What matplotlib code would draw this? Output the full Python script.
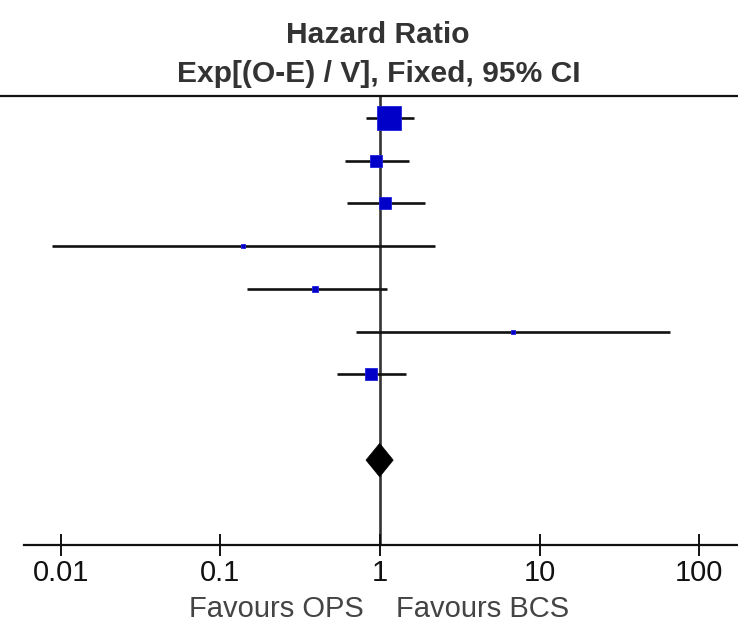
import numpy as np
import matplotlib
matplotlib.use("Agg")
import matplotlib.pyplot as plt
from matplotlib.lines import Line2D
from matplotlib.patches import Polygon

# ---- data ----
hr      = [1.14, 0.94, 1.075, 0.139, 0.393, 6.78, 0.875]
ci_low  = [0.817, 0.60, 0.62, 0.0088, 0.147, 0.707, 0.540]
ci_high = [1.63, 1.52, 1.91, 2.22, 1.10, 65.6, 1.455]
weights = [52.3, 16.0, 11.5, 1.5, 2.4, 1.5, 14.8]
pooled_hr, pooled_low, pooled_high = 0.995, 0.817, 1.21
tick_values = [0.01, 0.1, 1, 10, 100]
tick_labels = ["0.01", "0.1", "1", "10", "100"]
title_lines = ["Hazard Ratio", "Exp[(O-E) / V], Fixed, 95% CI"]
left_label, right_label = "Favours OPS", "Favours BCS"

W, H, DPI = 738, 623, 100
plt.rcParams['font.family'] = ['Liberation Sans', 'DejaVu Sans']

fig = plt.figure(figsize=(W / DPI, H / DPI), dpi=DPI)

# axes: bottom spine at y=545 px, spans x 24..737 px
ax_left, ax_right = 24, 737
ax_bottom, ax_top = 545, 96
ax = fig.add_axes([ax_left / W, (H - ax_bottom) / H,
                   (ax_right - ax_left) / W, (ax_bottom - ax_top) / H])

px_per_decade = 159.6
x_one = 380.0
ax.set_xscale('log')
ax.set_xlim(10 ** ((ax_left - x_one) / px_per_decade),
            10 ** ((ax_right - x_one) / px_per_decade))

row0_px, row_step = 117.7, 42.8
ax.set_ylim((ax_bottom - row0_px) / row_step, (ax_top - row0_px) / row_step)

for s in ['top', 'left', 'right']:
    ax.spines[s].set_visible(False)
ax.spines['bottom'].set_linewidth(1.6)
ax.spines['bottom'].set_color('#111111')
ax.set_yticks([])
ax.set_xticks(tick_values)
ax.set_xticklabels(tick_labels)
ax.xaxis.set_minor_locator(matplotlib.ticker.NullLocator())
ax.tick_params(axis='x', direction='inout', length=16.5, width=1.4,
               colors='#111111', labelsize=21, pad=2)

# vertical line of no effect
ax.axvline(1, color='#333333', lw=1.9, zorder=1)

# study rows
max_side_px = 23.5
for i, (m, lo, hi, w) in enumerate(zip(hr, ci_low, ci_high, weights)):
    ax.plot([lo, hi], [i, i], color='#111111', lw=1.9, solid_capstyle='butt', zorder=2)
    side_px = max(max_side_px * np.sqrt(w / max(weights)), 4.5)
    ax.plot(m, i, marker='s', color='#0000C8', markeredgecolor='#2020E0',
            markeredgewidth=0.6, markersize=side_px * 0.72, zorder=3)

# pooled diamond
dy = 16.7 / row_step
yd = len(hr) + 1
diamond = Polygon([[pooled_low, yd], [pooled_hr, yd - dy],
                   [pooled_high, yd], [pooled_hr, yd + dy]],
                  closed=True, facecolor='black', edgecolor='black', lw=0.5, zorder=4)
ax.add_patch(diamond)

# top line across the full width
fig.add_artist(Line2D([0, 1], [(H - 96) / H, (H - 96) / H], color='#111111', lw=1.6,
                      transform=fig.transFigure))

# titles
fig.text(377.5 / W, (H - 43.3) / H, title_lines[0], ha='center', va='baseline',
         fontsize=21.6, fontweight='bold', color='#333333')
fig.text(378.5 / W, (H - 82.5) / H, title_lines[1], ha='center', va='baseline',
         fontsize=21.6, fontweight='bold', color='#333333')

# favours labels
fig.text(364 / W, (H - 617) / H, left_label, ha='right', va='baseline',
         fontsize=21, color='#444444')
fig.text(396 / W, (H - 617) / H, right_label, ha='left', va='baseline',
         fontsize=21, color='#444444')

fig.savefig('out.png', dpi=DPI)
